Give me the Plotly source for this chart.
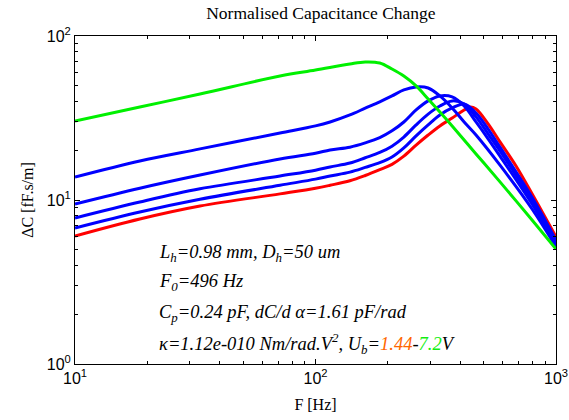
import plotly.graph_objects as go

# ---- data ----
green_f = [10, 18.6, 33.1, 71.2, 100, 139, 161, 185, 208, 233, 262, 294, 329, 370, 465, 585, 795, 1000]
green_v = [30.3, 36.9, 44.3, 57.0, 62.0, 67.5, 69.4, 68.4, 62.9, 57.0, 49.6, 41.3, 34.4, 28.3, 19.1, 12.9, 7.55, 5.02]

blue1_f = [10, 18.6, 33.1, 71.2, 100, 115, 139, 161, 185, 208, 233, 262, 294, 329, 370, 415, 465, 585, 795, 1000]
blue1_v = [13.8, 17.3, 20.5, 25.6, 28.3, 29.9, 33.0, 36.3, 39.7, 43.1, 46.9, 48.9, 48.2, 43.1, 36.4, 29.9, 24.9, 16.3, 8.81, 5.17]

blue2_f = [10, 18.6, 33.1, 71.2, 100, 115, 139, 161, 185, 208, 233, 262, 294, 329, 370, 415, 465, 522, 585, 795, 1000]
blue2_v = [9.45, 11.8, 14.2, 17.8, 19.3, 20.2, 21.0, 22.3, 24.0, 26.4, 29.9, 35.4, 40.2, 43.1, 42.5, 37.4, 29.9, 23.6, 18.5, 9.45, 5.32]

blue3_f = [10, 18.6, 33.1, 71.2, 100, 115, 139, 161, 185, 208, 233, 262, 294, 329, 370, 415, 465, 522, 585, 795, 1000]
blue3_v = [7.77, 9.72, 11.7, 14.0, 15.2, 15.9, 16.8, 18.1, 19.5, 21.3, 24.2, 28.7, 33.4, 37.4, 40.2, 38.5, 32.1, 25.3, 19.9, 9.86, 5.47]

blue4_f = [10, 18.6, 33.1, 71.2, 100, 115, 139, 161, 185, 208, 233, 262, 294, 329, 370, 415, 465, 522, 585, 795, 1000]
blue4_v = [6.75, 8.45, 10.1, 12.3, 13.4, 14.0, 14.8, 15.8, 16.9, 18.3, 20.8, 24.6, 28.7, 33.0, 36.4, 38.5, 33.9, 27.1, 21.0, 10.4, 5.70]

red_f = [10, 18.6, 33.1, 71.2, 100, 115, 139, 161, 185, 208, 233, 262, 294, 329, 370, 415, 439, 465, 522, 585, 682, 795, 1000]
red_v = [6.03, 7.66, 9.19, 10.9, 11.8, 12.3, 13.1, 14.1, 15.3, 16.5, 18.5, 21.6, 24.9, 28.3, 31.6, 35.4, 36.9, 35.9, 29.1, 22.6, 16.1, 10.9, 5.95]

x_tickvals = [10, 100, 1000]
x_ticktext = ["10<sup>1</sup>", "10<sup>2</sup>", "10<sup>3</sup>"]
y_tickvals = [1, 10, 100]
y_ticktext = ["10<sup>0</sup>", "10<sup>1</sup>", "10<sup>2</sup>"]

info_lines = [
    "L<sub>h</sub>=0.98 mm, D<sub>h</sub>=50 um",
    "F<sub>0</sub>=496 Hz",
    "C<sub>p</sub>=0.24 pF, dC/d \u03b1=1.61 pF/rad",
    "\u03ba=1.12e-010 Nm/rad.V<sup>2</sup>, U<sub>b</sub>="
    "<span style='color:#FF6600'>1.44</span>-<span style='color:#11EE11'>7.2</span>V",
]

# ---- figure ----
fig = go.Figure()
series = [
    (red_f, red_v, "#FF0000"),
    (blue4_f, blue4_v, "#0000FF"),
    (blue3_f, blue3_v, "#0000FF"),
    (blue2_f, blue2_v, "#0000FF"),
    (blue1_f, blue1_v, "#0000FF"),
    (green_f, green_v, "#00F000"),
]
for f, v, c in series:
    fig.add_trace(go.Scatter(x=f, y=v, mode="lines",
                             line=dict(color=c, width=3, shape="spline", smoothing=1.0),
                             showlegend=False, hoverinfo="skip"))

minor_x = [m * 10 ** e for e in (1, 2) for m in range(2, 10)]
minor_y = [m * 10 ** e for e in (0, 1) for m in range(2, 10)]

axis_common = dict(
    type="log", showgrid=False, zeroline=False, automargin=False,
    showline=True, linecolor="black", linewidth=1, mirror="allticks",
    ticks="inside", ticklen=5, tickcolor="black", tickwidth=1,
    tickfont=dict(family="Liberation Sans", size=16, color="black"),
)

fig.update_xaxes(**axis_common, range=[1, 3], tickmode="array",
                 tickvals=x_tickvals, ticktext=x_ticktext,
                 minor=dict(ticks="inside", ticklen=3, tickcolor="black", tickmode="array", tickvals=minor_x),
                 title=dict(text="F [Hz]", font=dict(family="Liberation Serif", size=16, color="black"), standoff=12))
fig.update_yaxes(**axis_common, range=[0, 2], tickmode="array",
                 tickvals=y_tickvals, ticktext=y_ticktext,
                 minor=dict(ticks="inside", ticklen=3, tickcolor="black", tickmode="array", tickvals=minor_y),
                 title=dict(text="\u0394C [fF.s/m]", font=dict(family="Liberation Serif", size=16, color="black"), standoff=9))

ys = [0.338, 0.247, 0.155, 0.064]
for t, yy in zip(info_lines, ys):
    fig.add_annotation(text="<i>" + t + "</i>", xref="paper", yref="paper", x=0.17, y=yy,
                       xanchor="left", yanchor="middle", showarrow=False,
                       font=dict(family="Liberation Serif", size=18.5, color="black"))

fig.update_layout(
    width=569, height=420,
    margin=dict(l=75, r=13, t=36, b=56),
    paper_bgcolor="white", plot_bgcolor="white",
    title=dict(text="Normalised Capacitance Change", x=0.564, xanchor="center",
               y=1 - 13 / 420, yanchor="middle",
               font=dict(family="Liberation Serif", size=17.5, color="black")),
)

fig.write_html("out.html")
